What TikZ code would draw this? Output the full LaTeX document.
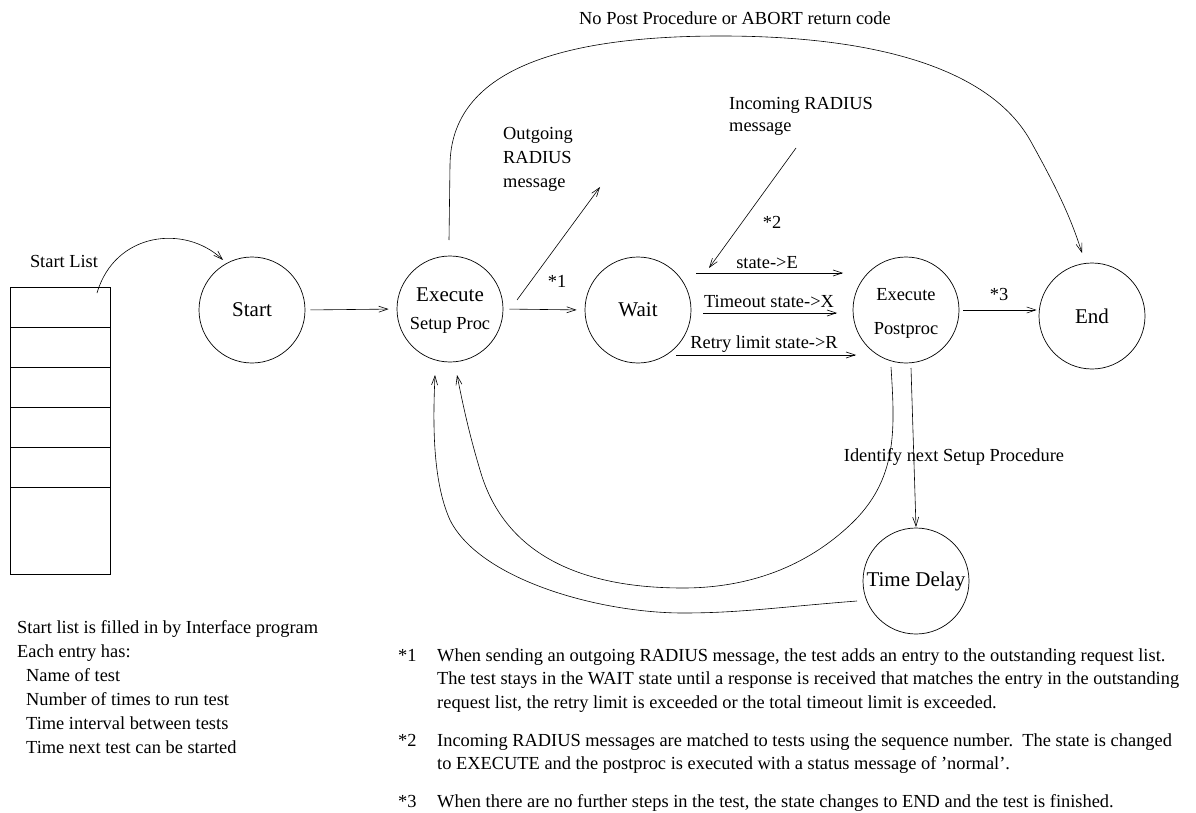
\documentclass[tikz,border=0pt]{standalone}
\usepackage{fontspec}
\setmainfont{Liberation Serif}
\usetikzlibrary{arrows.meta}
\begin{document}
\begin{tikzpicture}[x=1pt,y=-1pt,
  stnode/.style={draw, circle, minimum size=106pt, inner sep=0pt, line width=0.7pt, font=\fontsize{21}{25}\selectfont},
  arr/.style={-{Straight Barb[length=9pt,width=6pt]}, line width=0.6pt},
  txt/.style={font=\fontsize{18.4}{23}\selectfont, inner sep=0pt},
  bigtxt/.style={font=\fontsize{21}{25}\selectfont, inner sep=0pt},
  boxline/.style={line width=1pt}]
\useasboundingbox (0,0) rectangle (1196,813);

% start list box
\draw[boxline] (10,287) rectangle (110,574);
\foreach \yy in {327,367,407,447,487} \draw[boxline] (10,\yy) -- (110,\yy);
\node[txt, anchor=base] (sl) at (64,267) {Start List};

% states
\node[stnode] (start) at (252,310) {Start};
\node[stnode] (exec) at (450,309) {};
\node[bigtxt, anchor=base] (exectxt) at (450,301) {Execute};
\node[txt, anchor=base] (setuptxt) at (450,329) {Setup Proc};
\node[stnode] (wait) at (638,310) {Wait};
\node[stnode] (post) at (906,310) {};
\node[txt, anchor=base] (posttxt1) at (906,300) {Execute};
\node[txt, anchor=base] (posttxt2) at (906,334) {Postproc};
\node[stnode] (end) at (1092,316) {End};
\node[stnode] (delay) at (916,581) {Time Delay};

% coordinates for free / offset connector ends
\coordinate (slA) at (97,293);
\coordinate (startIn) at (223,260);
\coordinate (outA) at (517,300);
\coordinate (outB) at (600,187);
\coordinate (incA) at (796,148);
\coordinate (incB) at (709,268);
\coordinate (eA) at (696,273);
\coordinate (eB) at (843,273);
\coordinate (xA) at (703,313);
\coordinate (xB) at (837,313);
\coordinate (rA) at (676,355);
\coordinate (rB) at (856,355);
\coordinate (topA) at (449,240);
\coordinate (topB) at (1082,253);
\coordinate (dA) at (911,368);
\coordinate (dB) at (916,527);
\coordinate (inA) at (891,367);
\coordinate (inB) at (457,375);
\coordinate (ouA) at (857,601);
\coordinate (ouB) at (435,375);

% connectors
\draw[arr] (slA) .. controls (115,232) and (185,224) .. (startIn);
\draw[arr, shorten <=5pt, shorten >=8pt] (start.east) -- (exec.west);
\draw[arr, shorten <=6pt, shorten >=8pt] (exec.east) -- (wait.west);
\draw[arr] (outA) -- (outB);
\draw[arr] (incA) -- (incB);
\draw[arr] (eA) -- (eB);
\draw[arr] (xA) -- (xB);
\draw[arr] (rA) -- (rB);
\draw[arr, shorten <=4pt, shorten >=2pt] (post.east) -- (end.west |- post.east);
\draw[arr] (dA) -- (dB);
\draw[arr] (topA) -- (450,165) .. controls (451,70) and (560,36) .. (721,36)
   .. controls (880,36) and (990,70) .. (1030,140)
   .. controls (1055,185) and (1070,215) .. (topB);
\draw[arr] (inA) .. controls (895,430) and (898,480) .. (850,525)
   .. controls (800,572) and (740,588) .. (683,588)
   .. controls (560,588) and (500,540) .. (480,470)
   .. controls (468,430) and (462,400) .. (inB);
\draw[arr] (ouA) .. controls (780,607) and (740,613) .. (683,613)
   .. controls (600,613) and (480,580) .. (450,520)
   .. controls (432,480) and (433,420) .. (ouB);

% labels
\node[txt, anchor=base] (nopost) at (735,25) {No Post Procedure or ABORT return code};
\node[txt, anchor=base west, align=left, font=\fontsize{18.4}{24}\selectfont] (outlbl) at (503,188) {Outgoing\\RADIUS\\message};
\node[txt, anchor=base west, align=left, font=\fontsize{18.4}{22}\selectfont] (inclbl) at (729,132) {Incoming RADIUS\\message};
\node[txt, anchor=base] (s1) at (557,287) {*1};
\node[txt, anchor=base] (s2) at (772,228) {*2};
\node[txt, anchor=base] (s3) at (999,300) {*3};
\node[txt, anchor=base] (le) at (767,268) {state->E};
\node[txt, anchor=base] (lx) at (769,307) {Timeout state->X};
\node[txt, anchor=base] (lr) at (764,348) {Retry limit state->R};
\node[txt, anchor=base] (ident) at (954,461) {Identify next Setup Procedure};

% notes (base anchor = last line of a multi-line node)
\node[txt, anchor=base west, align=left, font=\fontsize{18.4}{24}\selectfont] (leftnote) at (17,753.5)
  {Start list is filled in by Interface program\\Each entry has:\\\hspace*{9pt}Name of test\\\hspace*{9pt}Number of times to run test\\\hspace*{9pt}Time interval between tests\\\hspace*{9pt}Time next test can be started};
\node[txt, anchor=base west] (f1) at (398,661) {*1};
\node[txt, anchor=base west, align=left, font=\fontsize{18.4}{23.5}\selectfont] (f1t) at (437,708)
  {When sending an outgoing RADIUS message, the test adds an entry to the outstanding request list.\\The test stays in the WAIT state until a response is received that matches the entry in the outstanding\\request list, the retry limit is exceeded or the total timeout limit is exceeded.};
\node[txt, anchor=base west] (f2) at (398,746) {*2};
\node[txt, anchor=base west, align=left, font=\fontsize{18.4}{23.5}\selectfont] (f2t) at (437,769.5)
  {Incoming RADIUS messages are matched to tests using the sequence number.\ \ The state is changed\\to EXECUTE and the postproc is executed with a status message of 'normal'.};
\node[txt, anchor=base west] (f3) at (398,807) {*3};
\node[txt, anchor=base west] (f3t) at (437,807)
  {When there are no further steps in the test, the state changes to END and the test is finished.};
\end{tikzpicture}
\end{document}
